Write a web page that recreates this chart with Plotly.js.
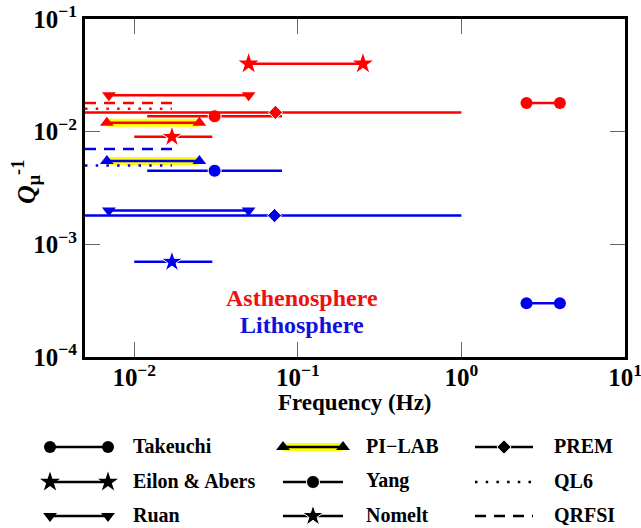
<!DOCTYPE html>
<html>
<head>
<meta charset="utf-8">
<script src="https://cdn.plot.ly/plotly-3.0.1.min.js"></script>
<style>html,body{margin:0;padding:0;background:#fff;}#chart{width:641px;height:528px;}</style>
</head>
<body>
<div id="chart"></div>
<script>
// ---------------- data ----------------
const studies = ['Takeuchi', 'Eilon & Abers', 'Ruan', 'PI\u2212LAB', 'Yang', 'Nomelt', 'PREM', 'QL6', 'QRFSI'];

// Asthenosphere (red)
const asthFreqMin  = [2.5,   0.05,  0.007, 0.0068, 0.012,  0.010, 0.005,  0.005, 0.005];
const asthFreqMax  = [4.0,   0.25,  0.05,  0.025,  0.080,  0.030, 1.0,    0.017, 0.018];
const asthFreqMark = [null,  null,  null,  null,   0.031,  0.017, 0.073,  null,  null];
const asthQ        = [0.018, 0.040, 0.021, 0.012,  0.0137, 0.009, 0.0148, 0.016, 0.018];

// Lithosphere (blue)
const lithFreqMin  = [2.5,    null, 0.007, 0.0068, 0.012,  0.010,  0.005,  0.005, 0.005];
const lithFreqMax  = [4.0,    null, 0.05,  0.025,  0.080,  0.030,  1.0,    0.017, 0.018];
const lithFreqMark = [null,   null, null,  null,   0.031,  0.017,  0.072,  null,  null];
const lithQ        = [0.0003, null, 0.002, 0.0055, 0.0045, 0.0007, 0.0018, 0.005, 0.007];

const xTickVals = [0.01, 0.1, 1, 10];
const xTickText = ['10<sup>\u22122</sup>', '10<sup>\u22121</sup>', '10<sup>0</sup>', '10<sup>1</sup>'];
const yTickVals = [1e-4, 1e-3, 1e-2, 1e-1];
const yTickText = ['10<sup>\u22124</sup>', '10<sup>\u22123</sup>', '10<sup>\u22122</sup>', '10<sup>\u22121</sup>'];

// ---------------- styles ----------------
const FONT = '"Liberation Serif", "Times New Roman", Times, serif';
const W = 641, H = 528;
const plotBox = {l: 85, r: 625, t: 19, b: 357};
const styles = [
  {symbol: 'circle',        place: 'ends',   size: 12},
  {symbol: 'star',          place: 'ends',   size: 15},
  {symbol: 'triangle-down', place: 'ends',   size: 12},
  {symbol: 'triangle-up',   place: 'ends',   size: 12, highlight: true},
  {symbol: 'circle',        place: 'middle', size: 13},
  {symbol: 'star',          place: 'middle', size: 16},
  {symbol: 'diamond',       place: 'middle', size: 11},
  {symbol: null,            place: 'none',   dash: '2.5px,8.2px'},
  {symbol: null,            place: 'none',   dash: '11px,8px'}
];
const LW = 2.5;

function studyTraces(i, x0, x1, xm, y, color, xa, ya, legSize) {
  const st = styles[i];
  const out = [];
  const sz = legSize ? Math.round(st.size * legSize) : st.size;
  if (st.highlight) {
    out.push({x: [x0, x1], y: [y, y], xaxis: xa, yaxis: ya, mode: 'lines',
      line: {color: '#ffff00', width: 8}, hoverinfo: 'skip'});
  }
  if (st.place === 'ends') {
    out.push({x: [x0, x1], y: [y, y], xaxis: xa, yaxis: ya, mode: 'lines+markers', name: studies[i],
      line: {color: color, width: LW}, marker: {symbol: st.symbol, size: sz, color: color, opacity: 1}, cliponaxis: false});
  } else if (st.place === 'middle') {
    out.push({x: [x0, xm, x1], y: [y, y, y], xaxis: xa, yaxis: ya, mode: 'lines+markers', name: studies[i],
      line: {color: color, width: LW}, marker: {symbol: st.symbol, size: [0, sz, 0], color: color, opacity: 1}, cliponaxis: false});
  } else {
    out.push({x: [x0, x1], y: [y, y], xaxis: xa, yaxis: ya, mode: 'lines', name: studies[i],
      line: {color: color, width: LW, dash: st.dash}});
  }
  return out;
}

let traces = [];
// draw lithosphere then asthenosphere
for (let i = 0; i < studies.length; i++) {
  if (lithQ[i] !== null)
    traces = traces.concat(studyTraces(i, lithFreqMin[i], lithFreqMax[i], lithFreqMark[i], lithQ[i], '#0000ee', 'x', 'y'));
}
for (let i = 0; i < studies.length; i++) {
  if (asthQ[i] !== null)
    traces = traces.concat(studyTraces(i, asthFreqMin[i], asthFreqMax[i], asthFreqMark[i], asthQ[i], '#ff0000', 'x', 'y'));
}

// ---------------- custom legend (pixel-like helper axis) ----------------
const legSampleX0 = [50, 283, 475];
const legSampleX1 = [108, 343, 533];
const legLabelX = [131, 364, 552];
const legRowY = [447, 482, 516];
const annotations = [];
for (let i = 0; i < studies.length; i++) {
  const c = Math.floor(i / 3), r = i % 3;
  const x0 = legSampleX0[c], x1 = legSampleX1[c];
  traces = traces.concat(studyTraces(i, x0, x1, (x0 + x1) / 2, legRowY[r], '#000000', 'x2', 'y2', 1.0));
  annotations.push({xref: 'x2', yref: 'y2', x: legLabelX[c], y: legRowY[r] - 1, text: '<b>' + studies[i] + '</b>',
    showarrow: false, xanchor: 'left', yanchor: 'middle', font: {family: FONT, size: 20, color: '#000'}});
}
traces.forEach(t => { if (!t.hoverinfo) t.hoverinfo = 'skip'; });

annotations.push(
  {xref: 'paper', yref: 'paper', x: 302 / W, y: 1 - 298 / H, text: '<b>Asthenosphere</b>', showarrow: false,
   xanchor: 'center', yanchor: 'middle', font: {family: FONT, size: 24, color: '#ee1111'}},
  {xref: 'paper', yref: 'paper', x: 302 / W, y: 1 - 325 / H, text: '<b>Lithosphere</b>', showarrow: false,
   xanchor: 'center', yanchor: 'middle', font: {family: FONT, size: 24, color: '#1111dd'}},
  {xref: 'paper', yref: 'paper', x: 355 / W, y: 1 - 402 / H, text: '<b>Frequency (Hz)</b>', showarrow: false,
   xanchor: 'center', yanchor: 'middle', font: {family: FONT, size: 23, color: '#000'}},
  {xref: 'paper', yref: 'paper', x: 26 / W, y: 1 - 182 / H, text: '<b><i>Q</i></b><sub><b>\u03bc</b></sub><sup><b>-1</b></sup>', showarrow: false,
   textangle: -90, xanchor: 'center', yanchor: 'middle', font: {family: FONT, size: 26, color: '#000'}}
);

const axisCommon = {
  showline: true, linewidth: 3, linecolor: '#000', mirror: 'ticks',
  ticks: 'inside', ticklen: 15, tickwidth: 1, tickcolor: '#666',
  showgrid: false, zeroline: false, ticklabeloverflow: 'allow',
  tickfont: {family: FONT, size: 25, color: '#000', weight: 'bold'}
};

const layout = {
  width: W, height: H,
  margin: {l: 0, r: 0, t: 0, b: 0},
  paper_bgcolor: '#fff', plot_bgcolor: '#fff',
  showlegend: false,
  font: {family: FONT},
  xaxis: Object.assign({}, axisCommon, {
    type: 'log', range: [Math.log10(0.005), 1], domain: [plotBox.l / W, plotBox.r / W],
    tickmode: 'array', tickvals: xTickVals, ticktext: xTickText.map(t => '<b>' + t + '</b>'),
    anchor: 'y', ticklabelstandoff: -4
  }),
  yaxis: Object.assign({}, axisCommon, {
    type: 'log', range: [-4, -1], domain: [1 - plotBox.b / H, 1 - plotBox.t / H],
    tickmode: 'array', tickvals: yTickVals, ticktext: yTickText.map(t => '<b>' + t + '</b>'),
    anchor: 'x', ticklabelstandoff: 0
  }),
  xaxis2: {domain: [0, 1], range: [0, W], visible: false, anchor: 'y2', fixedrange: true},
  yaxis2: {domain: [0, (H - 370) / H], range: [H, 370], visible: false, anchor: 'x2', fixedrange: true},
  annotations: annotations
};

Plotly.newPlot('chart', traces, layout, {displayModeBar: false, staticPlot: true});
</script>
</body>
</html>
